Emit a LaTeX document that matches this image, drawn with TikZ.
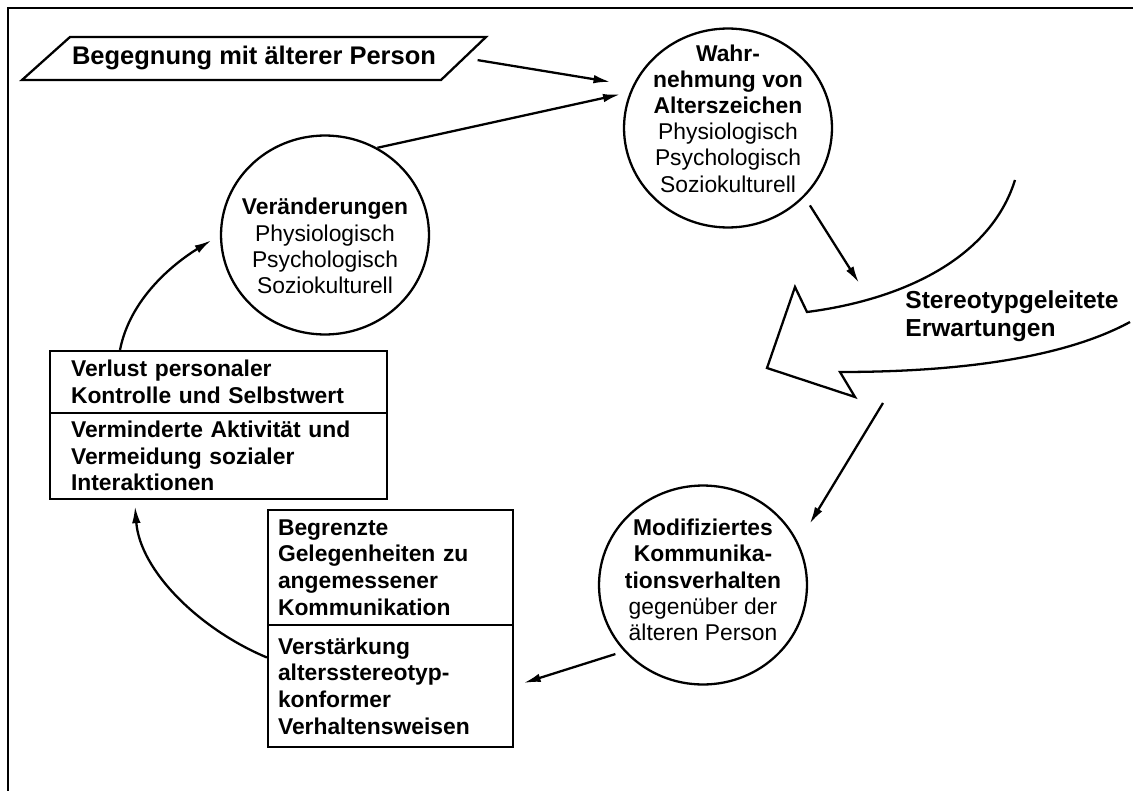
\documentclass[tikz,border=0pt]{standalone}
\usepackage{fontspec}
\setmainfont{Liberation Sans}
\usetikzlibrary{shapes.geometric,arrows.meta}
\tikzset{
  kreis/.style={ellipse, draw, line width=1.3pt, minimum width=4.16cm, minimum height=3.98cm, inner sep=-1.5cm, align=center, font=\fontsize{13}{14.9}\selectfont},
  kasten/.style={rectangle, draw, line width=1.3pt, align=left, inner ysep=0pt, font=\bfseries\fontsize{13}{15.2}\selectfont},
  pfeil/.style={line width=1.3pt, -{Latex[length=3.4mm,width=1.7mm]}},
}
\begin{document}
\begin{tikzpicture}[x=0.02cm,y=-0.02cm]
      \useasboundingbox (0,0) rectangle (1133,791);
      \draw[line width=1.3pt] (8,791) -- (8,8) -- (1133,8);
      %%%%%%%%%%%%%%%%%%%%%%%%%%%%%%%%%%%%%%%%%%%%%%%
      \node[font=\bfseries\fontsize{14.5}{16}\selectfont, minimum width=8.42cm, minimum height=0.86cm, inner sep=0pt] at (254,58) (meet) {Begegnung mit älterer Person};
      \draw[line width=1.3pt] (22,80) -- (70,37) -- (486,37) -- (441,80) -- cycle;
      %%%%%%%%%%%%%%%%%%%%%%%%%%%%%%%%%%%%%%%%%%%%%%%
      \node[kreis] at (728,128) (wahr) {\textbf{Wahr-}\\\textbf{nehmung von}\\\textbf{Alterszeichen}\\Physiologisch\\Psychologisch\\Soziokulturell\rule[-11pt]{0pt}{11pt}};
      \node[kreis] at (325,235) (veraend) {\rule{0pt}{22pt}\textbf{Veränderungen}\\Physiologisch\\Psychologisch\\Soziokulturell};
      \node[kreis] at (703,585) (modi) {\textbf{Modifiziertes}\\\textbf{Kommunika-}\\\textbf{tionsverhalten}\\gegenüber der\\älteren Person\rule[-6pt]{0pt}{6pt}};
      %%%%%%%%%%%%%%%%%%%%%%%%%%%%%%%%%%%%%%%%%%%%%%%
      \node[kasten, text width=5.9cm, inner xsep=0.42cm, minimum height=1.24cm] at (218.5,382) (verlust) {Verlust personaler\\Kontrolle und Selbstwert};
      \node[kasten, text width=5.9cm, inner xsep=0.42cm, minimum height=1.72cm] at (218.5,456) (vermind) {Verminderte Aktivität und\\Vermeidung sozialer\\Interaktionen};
      \node[kasten, text width=4.5cm, inner xsep=0.2cm, minimum height=2.3cm] at (390.5,567.5) (begrenzt) {Begrenzte\\Gelegenheiten zu\\angemessener\\Kommunikation};
      \node[kasten, text width=4.5cm, inner xsep=0.2cm, minimum height=2.44cm] at (390.5,686) (verstaerk) {Verstärkung\\altersstereotyp-\\konformer\\Verhaltensweisen};
      %%%%%%%%%%%%%%%%%%%%%%%%%%%%%%%%%%%%%%%%%%%%%%%
      \draw[line width=1.3pt, line join=miter] (1015,180) .. controls (990,260) and (900,300) .. (807,312) -- (795,287) -- (767,368) -- (855,397) -- (840,372) .. controls (950,372) and (1060,360) .. (1130,322);
      \node[anchor=west, align=left, inner sep=0pt, font=\bfseries\fontsize{14}{16}\selectfont] at (905,316) (erwart) {Stereotypgeleitete\\Erwartungen};
      \coordinate (e1) at (859,283);
      \coordinate (e2) at (883,403);
      %%%%%%%%%%%%%%%%%%%%%%%%%%%%%%%%%%%%%%%%%%%%%%%
      \draw[pfeil, shorten <=0.26cm, shorten >=0.45cm] (meet.east) -- (wahr.156);
      \draw[pfeil, shorten >=0.2cm] (veraend.59) -- (wahr.160);
      \draw[pfeil, shorten <=0.2cm] (wahr.-42) -- (e1);
      \draw[pfeil, shorten >=0.44cm] (e2) -- (modi.24);
      \draw[pfeil, shorten <=0.18cm, shorten >=0.2cm] (modi.220) -- (verstaerk.east);
      \draw[pfeil] (verstaerk.167) .. controls +(-67,-28) and +(5,65) .. ([xshift=-1.67cm,yshift=-0.12cm]vermind.south);
      \draw[pfeil, shorten >=0.2cm] ([xshift=-1.97cm]verlust.north) .. controls +(10,-51) and +(-47,29) .. (veraend.west);
      %%%%%%%%%%%%%%%%%%%%%%%%%%%%%%%%%%%%%%%%%%%%%%%
\end{tikzpicture}
\end{document}
